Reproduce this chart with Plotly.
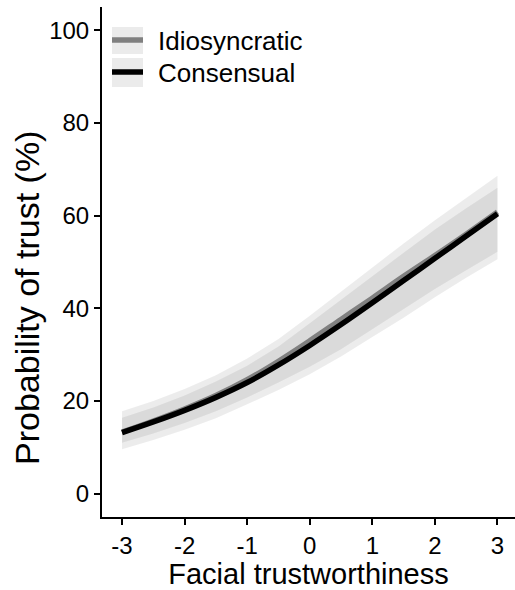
import plotly.graph_objects as go

# ---- data ----
x_vals = [-3, -2.5, -2, -1.5, -1, -0.5, 0, 0.5, 1, 1.5, 2, 2.5, 3]

consensual_mean = [13.2, 15.5, 18.0, 20.8, 24.0, 27.8, 32.0, 36.5, 41.2, 46.0, 50.8, 55.6, 60.4]
consensual_lo   = [11.0, 13.0, 15.3, 17.8, 20.8, 24.0, 27.4, 31.2, 35.5, 39.8, 44.2, 48.2, 52.2]
consensual_hi   = [16.4, 18.6, 21.2, 24.2, 27.6, 31.8, 36.8, 41.8, 47.0, 52.0, 57.0, 61.6, 66.0]

idio_mean = [13.3, 15.7, 18.3, 21.2, 24.6, 28.6, 33.0, 37.6, 42.2, 46.9, 51.4, 56.0, 60.8]
idio_lo   = [9.6, 11.6, 13.8, 16.3, 19.3, 22.4, 25.8, 29.6, 33.8, 38.0, 42.4, 46.6, 50.6]
idio_hi   = [17.8, 20.0, 22.6, 25.6, 29.2, 33.4, 38.4, 43.6, 49.0, 54.0, 59.0, 63.8, 68.6]

x_ticks = [-3, -2, -1, 0, 1, 2, 3]
y_ticks = [0, 20, 40, 60, 80, 100]
legend_labels = ["Idiosyncratic", "Consensual"]

FONT = "Liberation Sans, Arial, sans-serif"

fig = go.Figure()

# ribbons (semi-transparent so the overlap is darker)
for lo, hi in [(idio_lo, idio_hi), (consensual_lo, consensual_hi)]:
    fig.add_trace(go.Scatter(x=x_vals, y=lo, mode="lines", line=dict(width=0),
                             showlegend=False, hoverinfo="skip"))
    fig.add_trace(go.Scatter(x=x_vals, y=hi, mode="lines", line=dict(width=0),
                             fill="tonexty", fillcolor="rgba(0,0,0,0.075)",
                             showlegend=False, hoverinfo="skip"))

fig.add_trace(go.Scatter(x=x_vals, y=idio_mean, mode="lines", name=legend_labels[0],
                         line=dict(color="#808080", width=5.5, shape="spline"), showlegend=False))
fig.add_trace(go.Scatter(x=x_vals, y=consensual_mean, mode="lines", name=legend_labels[1],
                         line=dict(color="#000000", width=5.5, shape="spline"), showlegend=False))

# plot area in pixels: x 102..515, y 7..517
L, R, T, B = 102, 515, 7, 517
def px(xp):
    return (xp - L) / (R - L)
def py(yp):
    return (B - yp) / (B - T)

shapes = []
annotations = []
key_rows = [(27, 54, 40, "#808080"), (58, 87, 72, "#000000")]
for (y0, y1, yl, col), lab in zip(key_rows, legend_labels):
    shapes.append(dict(type="rect", xref="paper", yref="paper",
                       x0=px(112), x1=px(143), y0=py(y1), y1=py(y0),
                       fillcolor="#ebebeb", line=dict(width=0), layer="below"))
    shapes.append(dict(type="line", xref="paper", yref="paper",
                       x0=px(112), x1=px(143), y0=py(yl), y1=py(yl),
                       line=dict(color=col, width=5.5)))
    annotations.append(dict(xref="paper", yref="paper", x=px(156), y=py(yl + 1),
                            text=lab, showarrow=False, xanchor="left", yanchor="middle",
                            font=dict(family=FONT, size=26, color="#000000")))

# y-axis title
annotations.append(dict(xref="paper", yref="paper", x=px(27), y=py(298),
                        text="Probability of trust (%)", showarrow=False, textangle=-90,
                        xanchor="center", yanchor="middle",
                        font=dict(family=FONT, size=34, color="#000000")))

fig.update_layout(
    width=515, height=590,
    margin=dict(l=L, r=515 - R, t=T, b=590 - B),
    paper_bgcolor="white", plot_bgcolor="white",
    font=dict(family=FONT, color="#000000"),
    shapes=shapes, annotations=annotations,
    showlegend=False,
)
fig.update_xaxes(range=[-3.32, 3.28], tickvals=x_ticks, ticktext=[str(v) for v in x_ticks],
                 showgrid=False, zeroline=False, showline=True, linecolor="black", linewidth=2,
                 ticks="outside", ticklen=6, tickwidth=2, tickcolor="black",
                 tickfont=dict(size=24, family=FONT),
                 title=dict(text="Facial trustworthiness", font=dict(size=29, family=FONT), standoff=2),
                 automargin=False)
fig.update_yaxes(range=[-5, 105], tickvals=y_ticks, ticktext=[str(v) for v in y_ticks],
                 showgrid=False, zeroline=False, showline=True, linecolor="black", linewidth=2,
                 ticks="outside", ticklen=6, tickwidth=2, tickcolor="black",
                 tickfont=dict(size=24, family=FONT),
                 automargin=False)

fig.write_html("out.html", config={"displayModeBar": False},
               post_script="document.body.style.margin='0px';")
